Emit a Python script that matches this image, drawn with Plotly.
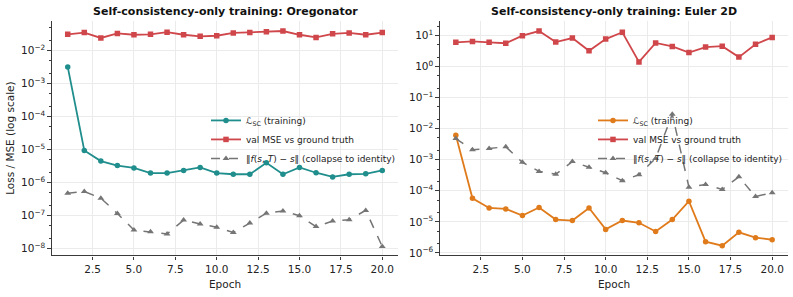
import plotly.graph_objects as go

epochs = list(range(1, 21))

# Oregonator
oreg_sc = [3.2e-3, 9.5e-6, 4.5e-6, 3.3e-6, 2.8e-6, 1.95e-6, 1.95e-6, 2.35e-6, 2.9e-6, 1.95e-6,
           1.8e-6, 1.8e-6, 4.0e-6, 1.8e-6, 2.9e-6, 2.0e-6, 1.5e-6, 1.8e-6, 1.85e-6, 2.35e-6]
oreg_val = [0.031, 0.035, 0.024, 0.033, 0.030, 0.031, 0.036, 0.030, 0.027, 0.028,
            0.034, 0.035, 0.037, 0.039, 0.030, 0.025, 0.032, 0.034, 0.030, 0.035]
oreg_col = [4.8e-7, 5.4e-7, 3.4e-7, 1.17e-7, 3.7e-8, 3.25e-8, 2.8e-8, 7.4e-8, 5.6e-8, 4.5e-8,
            3.1e-8, 6.0e-8, 1.2e-7, 1.4e-7, 1.0e-7, 4.7e-8, 6.9e-8, 7.6e-8, 1.45e-7, 1.17e-8]

# Euler 2D
eul_sc = [6.1e-3, 5.7e-5, 2.8e-5, 2.6e-5, 1.6e-5, 2.9e-5, 1.18e-5, 1.1e-5, 2.8e-5, 5.7e-6,
          1.1e-5, 9.3e-6, 4.9e-6, 1.18e-5, 4.6e-5, 2.3e-6, 1.7e-6, 4.6e-6, 3.1e-6, 2.65e-6]
eul_val = [6.0, 6.4, 6.0, 5.6, 9.8, 13.8, 6.1, 8.2, 3.2, 7.6,
           12.6, 1.4, 5.7, 4.4, 2.8, 4.2, 4.5, 2.0, 5.2, 8.6]
eul_col = [4.8e-3, 2.1e-3, 2.3e-3, 2.6e-3, 8.2e-4, 4.2e-4, 3.4e-4, 8.7e-4, 5.7e-4, 3.8e-4,
           2.1e-4, 3.3e-4, 1.1e-3, 2.9e-2, 1.3e-4, 1.6e-4, 1.1e-4, 2.8e-4, 6.5e-5, 8.7e-5]

titles = ["Self-consistency-only training: Oregonator", "Self-consistency-only training: Euler 2D"]
lbl_sc = "ℒ<sub>SC</sub> (training)"
lbl_val = "val MSE vs ground truth"
lbl_col = "‖<i>f</i>(<i>s</i>, <i>T</i>) − <i>s</i>‖ (collapse to identity)"

TEAL = "#1f8e8c"
RED = "#d0474b"
ORANGE = "#e07b1c"
GRAY = "#757575"
FONT = "DejaVu Sans"

fig = go.Figure()

def add_panel(sc, val, col, sc_color, xa, ya, legend):
    fig.add_trace(go.Scatter(x=epochs, y=sc, mode="lines+markers", name=lbl_sc,
                             line=dict(color=sc_color, width=1.8),
                             marker=dict(symbol="circle", size=5.5, color=sc_color),
                             xaxis=xa, yaxis=ya, legend=legend))
    fig.add_trace(go.Scatter(x=epochs, y=val, mode="lines+markers", name=lbl_val,
                             line=dict(color=RED, width=1.8),
                             marker=dict(symbol="square", size=5.5, color=RED),
                             xaxis=xa, yaxis=ya, legend=legend))
    fig.add_trace(go.Scatter(x=epochs, y=col, mode="lines+markers", name=lbl_col,
                             line=dict(color=GRAY, width=1.5, dash="dash"),
                             marker=dict(symbol="triangle-up", size=6, color=GRAY),
                             xaxis=xa, yaxis=ya, legend=legend))

add_panel(oreg_sc, oreg_val, oreg_col, TEAL, "x", "y", "legend")
add_panel(eul_sc, eul_val, eul_col, ORANGE, "x2", "y2", "legend2")

def pow_text(vals):
    out = []
    for v in vals:
        s = str(v).replace("-", "−")
        out.append(f"10<sup>{s}</sup>")
    return out

left_exps = list(range(-8, -1))
right_exps = list(range(-6, 2))

axis_common = dict(showline=True, linecolor="#3a3a3a", linewidth=1.3, ticks="outside",
                   ticklen=3.5, tickcolor="#3a3a3a", showgrid=True, gridcolor="#ebebeb",
                   gridwidth=0.8, zeroline=False, tickfont=dict(size=10.5, color="#222"),
                   mirror=False)

xax = dict(axis_common, range=[0.05, 20.95], tickvals=[2.5, 5, 7.5, 10, 12.5, 15, 17.5, 20],
           ticktext=["2.5", "5.0", "7.5", "10.0", "12.5", "15.0", "17.5", "20.0"],
           title=dict(text="Epoch", font=dict(size=10.5, color="#222"), standoff=7))

legend_common = dict(xanchor="left", yanchor="top", bgcolor="rgba(0,0,0,0)",
                     font=dict(size=9, color="#222"), tracegroupgap=0, itemwidth=30)

fig.update_layout(
    width=793, height=297,
    margin=dict(l=0, r=0, t=0, b=0),
    paper_bgcolor="white", plot_bgcolor="white",
    font=dict(family=FONT, size=11, color="#222"),
    xaxis=dict(xax, domain=[52/793, 398/793], anchor="y"),
    xaxis2=dict(xax, domain=[440/793, 788/793], anchor="y2"),
    yaxis=dict(axis_common, type="log", range=[-8.2, -1.1], domain=[1-258/297, 1-21/297],
               anchor="x", tickvals=[10**e for e in left_exps], ticktext=pow_text(left_exps),
               minor=dict(ticks="outside", ticklen=2, tickcolor="#3a3a3a", showgrid=False),
               title=dict(text="Loss / MSE (log scale)", font=dict(size=10.5, color="#222"), standoff=4)),
    yaxis2=dict(axis_common, type="log", range=[-6.08, 1.47], domain=[1-258/297, 1-21/297],
                anchor="x2", tickvals=[10**e for e in right_exps], ticktext=pow_text(right_exps),
                minor=dict(ticks="outside", ticklen=2, tickcolor="#3a3a3a", showgrid=False)),
    legend=dict(legend_common, x=206/793, y=1-107/297),
    legend2=dict(legend_common, x=593/793, y=1-107/297),
    annotations=[
        dict(text=f"<b>{titles[0]}</b>", x=225/793, y=1-12/297, xref="paper", yref="paper",
             showarrow=False, font=dict(size=11, color="#111"), xanchor="center", yanchor="middle"),
        dict(text=f"<b>{titles[1]}</b>", x=614/793, y=1-12/297, xref="paper", yref="paper",
             showarrow=False, font=dict(size=11, color="#111"), xanchor="center", yanchor="middle"),
    ],
)

fig.write_html("out.html")
